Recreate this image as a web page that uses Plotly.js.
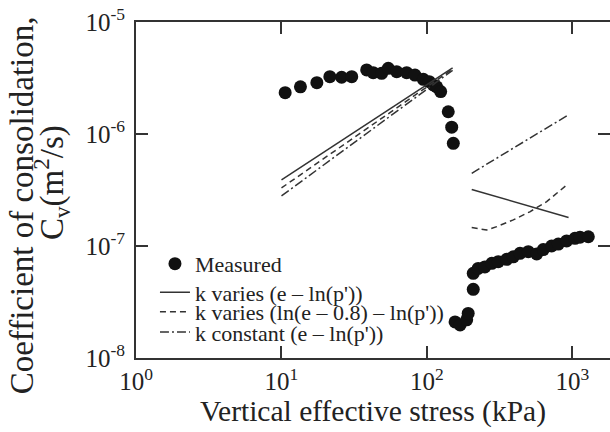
<!DOCTYPE html>
<html>
<head>
<meta charset="utf-8">
<script src="https://cdn.plot.ly/plotly-3.0.1.min.js"></script>
<style>
  html, body { margin: 0; padding: 0; background: #fff; }
  #chart { width: 610px; height: 432px; }
</style>
</head>
<body>
<div id="chart"></div>
<script>
// Measured coefficient of consolidation vs vertical effective stress
const measuredStress = [10.6, 13.5, 17.5, 21.5, 25.9, 30.4, 38.5, 42.7, 48.8, 54.2, 61.9, 72.5,
  82.7, 94.4, 103.7, 110.5, 116.6, 124.2, 140, 147.9, 151.7,
  156, 169, 187.5, 192, 208, 208, 225, 250, 279, 309, 353, 392, 436, 497, 568, 630, 719,
  799, 912, 1040, 1127, 1285];
const measuredCv = [2.34e-6, 2.64e-6, 2.87e-6, 3.25e-6, 3.21e-6, 3.25e-6, 3.73e-6, 3.53e-6,
  3.48e-6, 3.86e-6, 3.6e-6, 3.53e-6, 3.36e-6, 3.08e-6, 2.93e-6, 2.74e-6, 2.64e-6, 2.39e-6,
  1.58e-6, 1.15e-6, 8.26e-7,
  2.1e-8, 1.97e-8, 2.19e-8, 2.5e-8, 4.1e-8, 5.7e-8, 6.3e-8, 6.5e-8, 7.0e-8, 7.24e-8, 7.6e-8,
  8.0e-8, 8.6e-8, 8.9e-8, 8.5e-8, 9.3e-8, 1.0e-7, 1.04e-7, 1.11e-7, 1.17e-7, 1.2e-7, 1.21e-7];

// Model predictions (null separates the low-stress and high-stress branches)
const kVariesStress = [10, 150, null, 203, 940];
const kVariesCv = [3.9e-7, 3.9e-6, null, 3.2e-7, 1.8e-7];

const kVariesLnStress = [10, 150, null, 203, 257, 302, 392, 509, 665, 912];
const kVariesLnCv = [3.3e-7, 3.8e-6, null, 1.46e-7, 1.39e-7, 1.49e-7, 1.71e-7, 2.02e-7, 2.49e-7, 3.5e-7];

const kConstStress = [10, 150, null, 203, 936];
const kConstCv = [2.8e-7, 3.7e-6, null, 4.46e-7, 1.48e-6];

const seriesNames = [
  "Measured",
  "k varies (e \u2013 ln(p'))",
  "k varies (ln(e \u2013 0.8) \u2013 ln(p'))",
  "k constant (e \u2013 ln(p'))"
];

const xTickVals = [1, 10, 100, 1000];
const xTickText = ["10<sup>0</sup>", "10<sup>1</sup>", "10<sup>2</sup>", "10<sup>3</sup>"];
const yTickVals = [1e-8, 1e-7, 1e-6, 1e-5];
const yTickText = ["10<sup>-8</sup>", "10<sup>-7</sup>", "10<sup>-6</sup>", "10<sup>-5</sup>"];

const yTitleLines = ["Coefficient of consolidation,", "C<sub>v</sub>(m<sup>2</sup>/s)"];

const serif = "'Liberation Serif', 'Times New Roman', serif";
const ink = "#222";
const lineInk = "#333";

const traces = [
  {
    x: measuredStress, y: measuredCv, name: seriesNames[0], type: "scatter", mode: "markers",
    marker: { size: 13, color: "#111" }, legend: "legend"
  },
  {
    x: kVariesStress, y: kVariesCv, name: seriesNames[1], type: "scatter", mode: "lines",
    line: { color: lineInk, width: 1.5 }, legend: "legend2"
  },
  {
    x: kVariesLnStress, y: kVariesLnCv, name: seriesNames[2], type: "scatter", mode: "lines",
    line: { color: lineInk, width: 1.5, dash: "6px,4px" }, legend: "legend3"
  },
  {
    x: kConstStress, y: kConstCv, name: seriesNames[3], type: "scatter", mode: "lines",
    line: { color: lineInk, width: 1.5, dash: "9px,3px,2px,3px" }, legend: "legend4"
  }
];

function legendAt(yPos) {
  return {
    x: 0.04, y: yPos, xanchor: "left", yanchor: "middle",
    bgcolor: "rgba(0,0,0,0)", borderwidth: 0,
    font: { family: serif, size: 22, color: ink },
    tracegroupgap: 0
  };
}

// Two-line rotated y-axis title
function yTitle(text, xPaper, yPaper) {
  return {
    text: text, xref: "paper", yref: "paper", x: xPaper, y: yPaper,
    xanchor: "center", yanchor: "middle", textangle: -90, showarrow: false,
    font: { family: serif, size: 33, color: ink }
  };
}

const layout = {
  width: 610, height: 432,
  margin: { l: 136, r: 0, t: 22, b: 74 },
  paper_bgcolor: "#fff", plot_bgcolor: "#fff",
  showlegend: true,
  legend: legendAt(0.28),
  legend2: legendAt(0.195),
  legend3: legendAt(0.137),
  legend4: legendAt(0.077),
  annotations: [
    yTitle(yTitleLines[0], -0.24, 0.455),
    yTitle(yTitleLines[1], -0.177, 0.521)
  ],
  xaxis: {
    type: "log", range: [0, 3.258],
    tickvals: xTickVals, ticktext: xTickText,
    ticks: "inside", ticklen: 12, tickwidth: 2, tickcolor: lineInk,
    showline: true, linewidth: 2, linecolor: lineInk, mirror: "ticks",
    showgrid: false, zeroline: false,
    tickfont: { family: serif, size: 25, color: ink },
    title: { text: "Vertical effective stress (kPa)", font: { family: serif, size: 29.5, color: ink }, standoff: 3 },
    automargin: false
  },
  yaxis: {
    type: "log", range: [-8, -5],
    tickvals: yTickVals, ticktext: yTickText,
    ticks: "inside", ticklen: 12, tickwidth: 2, tickcolor: lineInk,
    ticklabelstandoff: 4,
    showline: true, linewidth: 2, linecolor: lineInk, mirror: "ticks",
    showgrid: false, zeroline: false,
    tickfont: { family: serif, size: 25, color: ink },
    automargin: false
  }
};

Plotly.newPlot("chart", traces, layout, { displayModeBar: false, staticPlot: true });
</script>
</body>
</html>
